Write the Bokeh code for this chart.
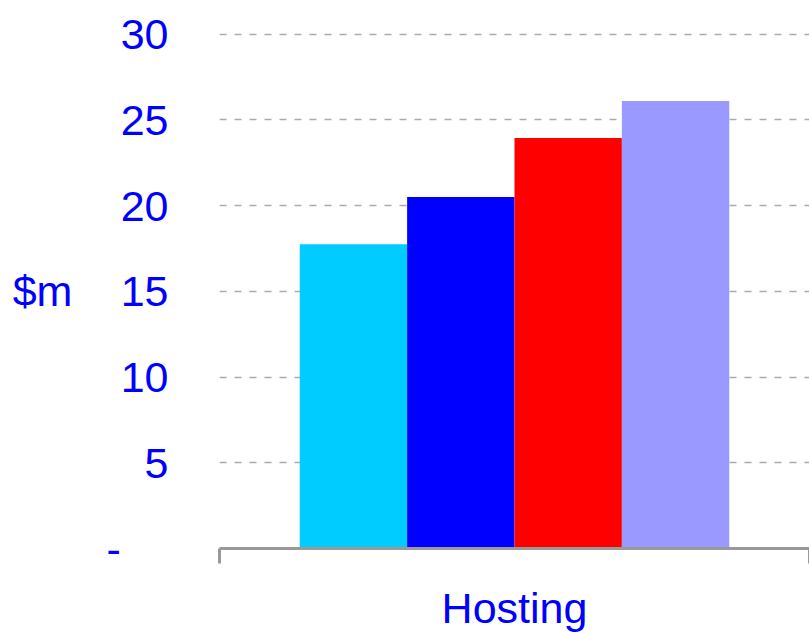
from bokeh.plotting import figure
from bokeh.models import ColumnDataSource, Range1d, FixedTicker
from bokeh.embed import file_html
from bokeh.resources import INLINE

# Revenue by segment, $m
categories = ["Hosting"]
series_names = ["Series 1", "Series 2", "Series 3", "Series 4"]
series_values = [[17.75], [20.5], [23.95], [26.1]]
series_colors = ["#00CCFF", "#0000FF", "#FF0000", "#9999FF"]
y_ticks = [0, 5, 10, 15, 20, 25, 30]
y_tick_labels = ["-", "5", "10", "15", "20", "25", "30"]

FONT = "Liberation Sans"
TEXT_COLOR = "#0000FF"
AXIS_GREY = "#999999"

# category i occupies the slot [i - 0.5, i + 0.5]
cat_pos = list(range(len(categories)))

p = figure(
    width=809, height=634,
    x_range=Range1d(-0.5, len(categories) - 0.5),
    y_range=Range1d(0, 30.1),
    output_backend="svg", toolbar_location=None,
    min_border_left=219, min_border_right=0,
    min_border_top=32, min_border_bottom=86,
    outline_line_color=None, background_fill_color="white",
    border_fill_color="white",
)

# clustered bars inside each category slot
bar_width = 0.182
n = len(series_names)
for i, (name, vals, color) in enumerate(zip(series_names, series_values, series_colors)):
    offset = (i - (n - 1) / 2) * bar_width
    src = ColumnDataSource(dict(x=[c + offset for c in cat_pos], value=vals))
    p.vbar(x="x", top="value", width=bar_width, source=src,
           fill_color=color, line_color=None)

# y axis: labels only
yax = p.yaxis[0]
yax.ticker = FixedTicker(ticks=y_ticks)
overrides = {t: lab for t, lab in zip(y_ticks, y_tick_labels)}
overrides[0] = y_tick_labels[0] + "\u00a0" * 4
yax.major_label_overrides = overrides
yax.axis_line_color = None
yax.major_tick_line_color = None
yax.minor_tick_line_color = None
yax.major_tick_out = 0
yax.major_tick_in = 0
yax.major_label_standoff = 51
yax.major_label_text_font = FONT
yax.major_label_text_font_size = "43px"
yax.major_label_text_color = TEXT_COLOR
yax.axis_label = "$m"
yax.axis_label_text_font = FONT
yax.axis_label_text_font_size = "43px"
yax.axis_label_text_font_style = "normal"
yax.axis_label_text_color = TEXT_COLOR
yax.axis_label_standoff = 31
yax.axis_label_orientation = "horizontal"

# x axis: grey baseline, ticks at slot boundaries, category names at slot centres
xax = p.xaxis[0]
xax.ticker = FixedTicker(ticks=cat_pos,
                         minor_ticks=[c - 0.5 for c in cat_pos] + [cat_pos[-1] + 0.5])
xax.major_label_overrides = {c: name for c, name in zip(cat_pos, categories)}
xax.axis_line_color = AXIS_GREY
xax.axis_line_width = 3
xax.major_tick_line_color = None
xax.major_tick_out = 0
xax.major_tick_in = 0
xax.minor_tick_line_color = AXIS_GREY
xax.minor_tick_line_width = 3
xax.minor_tick_in = 0
xax.minor_tick_out = 15
xax.major_label_standoff = 20
xax.major_label_text_font = FONT
xax.major_label_text_font_size = "43px"
xax.major_label_text_color = TEXT_COLOR

p.xgrid.grid_line_color = None
# dashed horizontal gridlines
p.ygrid.grid_line_color = "#AAAAAA"
p.ygrid.grid_line_width = 1.3
p.ygrid.grid_line_dash = "7 8"

open("out.html", "w").write(file_html(p, INLINE))
